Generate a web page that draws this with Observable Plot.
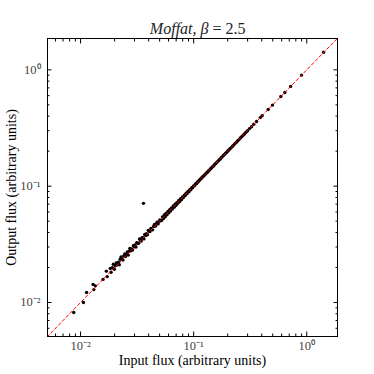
<!DOCTYPE html>
<html><head><meta charset="utf-8">
<script src="https://cdn.jsdelivr.net/npm/d3@7"></script>
<script src="https://cdn.jsdelivr.net/npm/@observablehq/plot@0.6"></script>
<style>body{margin:0;background:#fff}</style>
</head><body><div id="chart"></div>
<script>
const inputFlux = [0.0087,0.0106,0.0113,0.0131,0.0135,0.0129,0.0158,0.0172,0.0169,0.0183,0.0186,0.0191,0.0195,0.0199,0.0203,0.0207,0.0211,0.0216,0.0220,0.0224,0.0228,0.0233,0.0237,0.0241,0.0246,0.0250,0.0255,0.0259,0.0264,0.0268,0.0273,0.0278,0.0283,0.0288,0.0293,0.0298,0.0303,0.0309,0.0314,0.0320,0.0326,0.0332,0.0338,0.0344,0.0350,0.0356,0.0360,0.0363,0.0369,0.0376,0.0383,0.0390,0.0397,0.0404,0.0411,0.0419,0.0426,0.0434,0.0442,0.0450,0.0458,0.0466,0.0475,0.0484,0.0493,0.0502,0.0511,0.0520,0.0530,0.0540,0.0550,0.0560,0.0570,0.0581,0.0592,0.0603,0.0614,0.0625,0.0637,0.0649,0.0661,0.0673,0.0686,0.0699,0.0712,0.0725,0.0739,0.0753,0.0767,0.0781,0.0796,0.0811,0.0826,0.0842,0.0858,0.0874,0.0891,0.0908,0.0925,0.0943,0.0961,0.0979,0.0998,0.1017,0.1037,0.1057,0.1077,0.1098,0.1119,0.1141,0.1163,0.1186,0.1209,0.1233,0.1257,0.1282,0.1307,0.1333,0.1360,0.1387,0.1415,0.1444,0.1474,0.1505,0.1537,0.1570,0.1604,0.1639,0.1675,0.1712,0.1750,0.1790,0.1831,0.1873,0.1917,0.1962,0.2009,0.2058,0.2108,0.2160,0.2214,0.2270,0.2329,0.2390,0.2453,0.2519,0.2588,0.2660,0.2735,0.2815,0.2900,0.3000,0.3120,0.3250,0.3400,0.3600,0.3880,0.4030,0.4560,0.4980,0.5900,0.6400,0.7200,0.9000,1.4100];
const outputFlux = [0.0082,0.0100,0.0122,0.0129,0.0139,0.0143,0.0158,0.0167,0.0186,0.0196,0.0182,0.0199,0.0213,0.0193,0.0207,0.0219,0.0211,0.0222,0.0211,0.0235,0.0246,0.0235,0.0232,0.0251,0.0261,0.0248,0.0260,0.0272,0.0256,0.0276,0.0292,0.0278,0.0289,0.0282,0.0308,0.0301,0.0312,0.0300,0.0327,0.0323,0.0323,0.0352,0.0345,0.0337,0.0361,0.0360,0.0712,0.0352,0.0384,0.0376,0.0391,0.0382,0.0417,0.0408,0.0407,0.0432,0.0426,0.0421,0.0451,0.0468,0.0453,0.0471,0.0489,0.0474,0.0493,0.0512,0.0506,0.0506,0.0545,0.0526,0.0565,0.0546,0.0584,0.0568,0.0606,0.0590,0.0628,0.0612,0.0651,0.0636,0.0675,0.0660,0.0700,0.0685,0.0725,0.0712,0.0752,0.0740,0.0780,0.0769,0.0808,0.0799,0.0838,0.0830,0.0870,0.0862,0.0901,0.0896,0.0934,0.0931,0.0970,0.0967,0.1005,0.1010,0.1043,0.1050,0.1083,0.1091,0.1125,0.1134,0.1169,0.1179,0.1215,0.1227,0.1262,0.1276,0.1312,0.1327,0.1365,0.1381,0.1420,0.1438,0.1478,0.1499,0.1541,0.1565,0.1608,0.1634,0.1679,0.1707,0.1754,0.1786,0.1835,0.1869,0.1921,0.1958,0.2013,0.2054,0.2112,0.2156,0.2218,0.2266,0.2333,0.2386,0.2457,0.2515,0.2592,0.2656,0.2739,0.2811,0.2904,0.2996,0.3124,0.3246,0.3404,0.3596,0.3884,0.4026,0.4564,0.4976,0.5905,0.6395,0.7205,0.9010,1.4150];
const majorTicks = [0.01, 0.1, 1];
const majorLabels = ["10⁻²", "10⁻¹", "10⁰"];
const minorTicks = [0.006,0.007,0.008,0.009,0.02,0.03,0.04,0.05,0.06,0.07,0.08,0.09,0.2,0.3,0.4,0.5,0.6,0.7,0.8,0.9];
const diagonal = [0.004, 2.5];
const titleMain = "Moffat, β";
const titleRest = "= 2.5";
const xLabel = "Input flux (arbitrary units)";
const yLabel = "Output flux (arbitrary units)";

const points = inputFlux.map((x, i) => ({x, y: outputFlux[i]}));
const fmt = d => majorLabels[majorTicks.indexOf(d)];
const blank = () => "";

const chart = Plot.plot({
  width: 374, height: 374,
  marginLeft: 47, marginRight: 37, marginTop: 38, marginBottom: 38,
  style: {fontFamily: "'Liberation Serif', serif", background: "white", color: "black", overflow: "visible"},
  x: {type: "log", domain: [0.0051, 1.87], label: null},
  y: {type: "log", domain: [0.0051, 1.86], label: null},
  marks: [
    Plot.dot(points, {x: "x", y: "y", r: 1.7, fill: "black", stroke: null}),
    Plot.line(diagonal.map(v => ({x: v, y: v})), {x: "x", y: "y", stroke: "red", strokeWidth: 1, strokeDasharray: "3,2.5", clip: true}),
    Plot.frame({stroke: "black", strokeWidth: 1}),
    Plot.axisX({anchor: "bottom", ticks: majorTicks, tickSize: -4.5, tickFormat: blank, label: null}),
    Plot.axisX({anchor: "top", ticks: majorTicks, tickSize: -4.5, tickFormat: blank, label: null}),
    Plot.axisX({anchor: "bottom", ticks: minorTicks, tickSize: -2.5, tickFormat: blank, label: null}),
    Plot.axisX({anchor: "top", ticks: minorTicks, tickSize: -2.5, tickFormat: blank, label: null}),
    Plot.axisY({anchor: "left", ticks: majorTicks, tickSize: -4.5, tickFormat: blank, label: null}),
    Plot.axisY({anchor: "right", ticks: majorTicks, tickSize: -4.5, tickFormat: blank, label: null}),
    Plot.axisY({anchor: "left", ticks: minorTicks, tickSize: -2.5, tickFormat: blank, label: null}),
    Plot.axisY({anchor: "right", ticks: minorTicks, tickSize: -2.5, tickFormat: blank, label: null}),
    Plot.axisX({anchor: "bottom", ticks: majorTicks, tickSize: 0, tickPadding: 5, tickFormat: fmt, fontSize: 12.5, fill: "#444", label: null}),
    Plot.axisY({anchor: "left", ticks: majorTicks, tickSize: 0, tickPadding: 7, tickFormat: fmt, fontSize: 12.5, fill: "#444", label: null}),
    Plot.text([xLabel], {frameAnchor: "bottom", dy: 24, textAnchor: "middle", lineAnchor: "middle", fontSize: 14, fill: "black"}),
    Plot.text([yLabel], {frameAnchor: "left", dx: -36, rotate: -90, textAnchor: "middle", lineAnchor: "middle", fontSize: 14, fill: "black"}),
    Plot.text([titleMain], {frameAnchor: "top", dx: 16, dy: -10, textAnchor: "end", lineAnchor: "middle", fontSize: 16, fontStyle: "italic", fill: "#222"}),
    Plot.text([titleRest], {frameAnchor: "top", dx: 20, dy: -10, textAnchor: "start", lineAnchor: "middle", fontSize: 16, fill: "#222"})
  ]
});
document.getElementById("chart").appendChild(chart);
</script>
</body></html>
